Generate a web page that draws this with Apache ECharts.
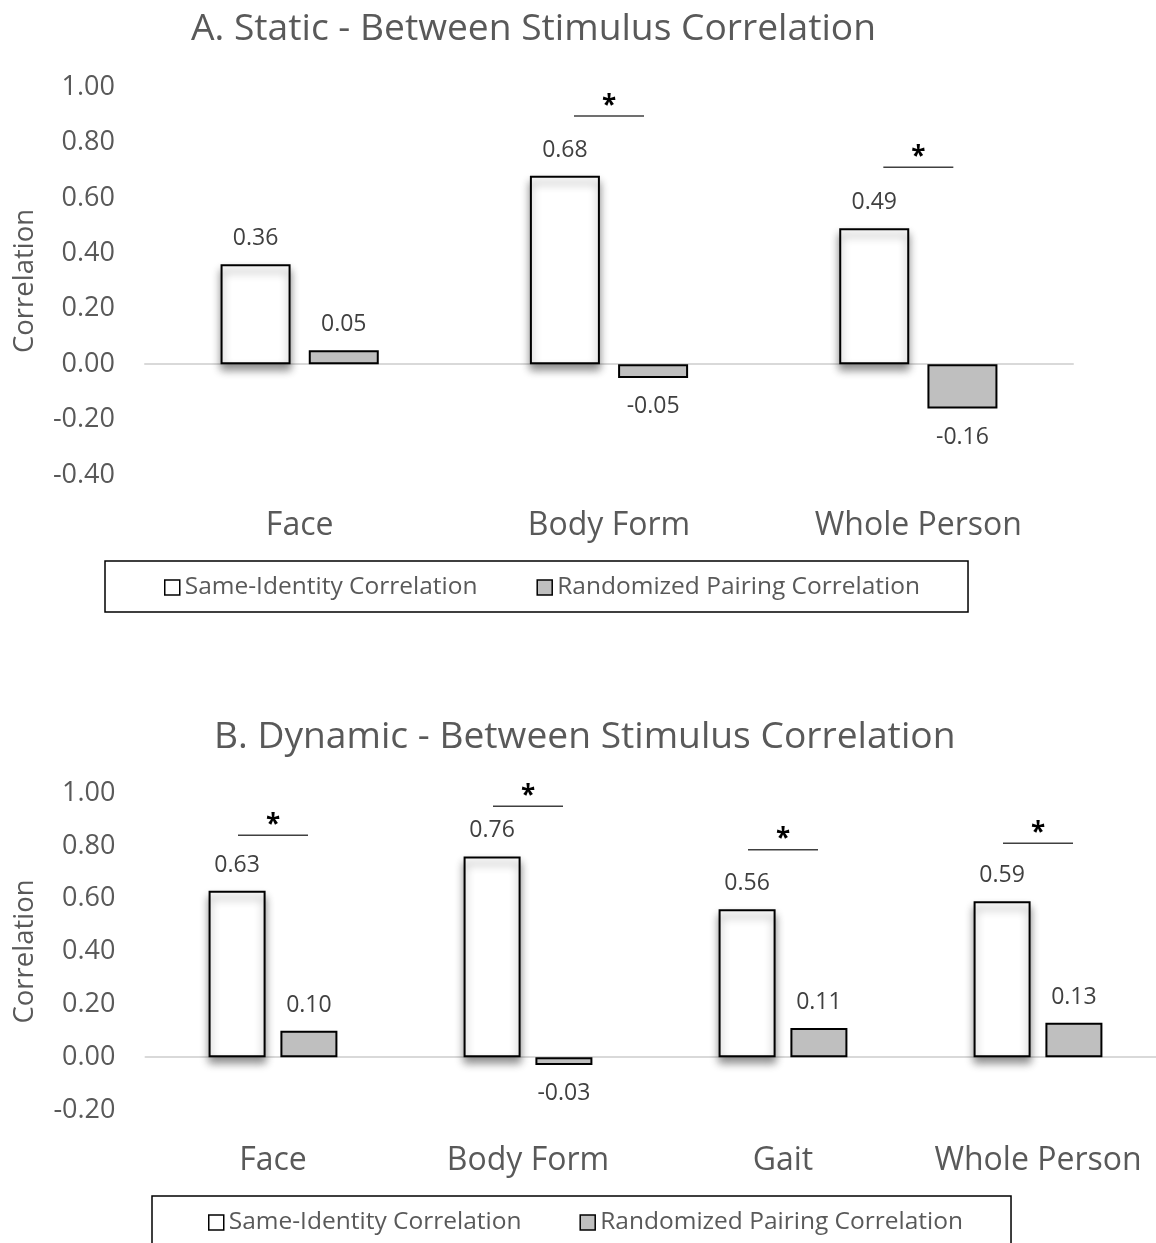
<!DOCTYPE html>
<html><head><meta charset="utf-8">
<script src="https://cdn.jsdelivr.net/npm/echarts@6/dist/echarts.min.js"></script>
<style>html,body{margin:0;padding:0;background:#fff}#chart{width:1156px;height:1243px}</style>
</head><body><div id="chart"></div>
<script>
// ---- Data ----
const seriesNames = ['Same-Identity Correlation', 'Randomized Pairing Correlation'];

const titleA = 'A. Static - Between Stimulus Correlation';
const categoriesA = ['Face', 'Body Form', 'Whole Person'];
const sameA = [0.36, 0.68, 0.49];
const randA = [0.05, -0.05, -0.16];
const sigLevelA = [null, 0.895, 0.71];   // height of significance bracket (correlation units)
const yRangeA = [-0.4, 1.0];

const titleB = 'B. Dynamic - Between Stimulus Correlation';
const categoriesB = ['Face', 'Body Form', 'Gait', 'Whole Person'];
const sameB = [0.63, 0.76, 0.56, 0.59];
const randB = [0.10, -0.03, 0.11, 0.13];
const sigLevelB = [0.84, 0.95, 0.785, 0.81];
const yRangeB = [-0.2, 1.0];
const yStep = 0.2;

// ---- Styles ----
const FONT = "'Open Sans', sans-serif";
const GREY_TXT = '#595959';

function barData(vals) {
  return vals.map(v => ({
    value: v,
    label: { position: v < 0 ? 'bottom' : 'top', distance: v < 0 ? 17 : 14 }
  }));
}
function sigData(levels) {
  const out = [];
  levels.forEach((lv, i) => { if (lv !== null) out.push([i, lv]); });
  return out;
}
function sigRender(params, api) {
  const p = api.coord([api.value(0), api.value(1)]);
  const half = 35;
  return {
    type: 'group',
    children: [
      { type: 'line', shape: { x1: p[0] - half, y1: p[1], x2: p[0] + half, y2: p[1] },
        style: { stroke: '#404040', lineWidth: 1.5 } },
      { type: 'text', style: { x: p[0], y: p[1] - 10, text: '*', fill: '#000',
        font: 'bold 26px ' + FONT, align: 'center', verticalAlign: 'middle' } }
    ]
  };
}

const valueLabel = {
  show: true,
  formatter: p => Number(p.value).toFixed(2),
  color: '#404040', fontSize: 23, fontFamily: FONT
};

function yAxis(gridIndex, range) {
  return {
    type: 'value', gridIndex: gridIndex, min: range[0], max: range[1], interval: yStep,
    name: 'Correlation', nameLocation: 'middle', nameRotate: 90, nameGap: 106,
    nameTextStyle: { color: GREY_TXT, fontSize: 27.5, fontFamily: FONT },
    axisLine: { show: false }, axisTick: { show: false }, splitLine: { show: false },
    axisLabel: { formatter: v => v.toFixed(2), color: GREY_TXT, fontSize: 27, fontFamily: FONT, margin: 30 }
  };
}
function xLabelAxis(gridIndex, cats) {
  return {
    type: 'category', gridIndex: gridIndex, data: cats, position: 'bottom',
    axisLine: { show: false, onZero: false }, axisTick: { show: false }, splitLine: { show: false },
    axisLabel: { color: GREY_TXT, fontSize: 32, fontFamily: FONT, margin: 35, interval: 0 }
  };
}
function xZeroAxis(gridIndex, cats) {
  return {
    type: 'category', gridIndex: gridIndex, data: cats, position: 'top',
    axisLine: { show: true, onZero: true, lineStyle: { color: '#d9d9d9', width: 2 } },
    axisTick: { show: false }, axisLabel: { show: false }, splitLine: { show: false }
  };
}
function sameSeries(xi, yi, vals, bw) {
  return {
    type: 'bar', name: seriesNames[0], xAxisIndex: xi, yAxisIndex: yi,
    data: barData(vals), barWidth: bw, barGap: '26%',
    itemStyle: { color: '#ffffff', borderColor: '#000', borderWidth: 2,
      shadowColor: 'rgba(0,0,0,0.45)', shadowBlur: 8, shadowOffsetY: 6 },
    label: valueLabel, z: 3
  };
}
function randSeries(xi, yi, vals, bw) {
  return {
    type: 'bar', name: seriesNames[1], xAxisIndex: xi, yAxisIndex: yi,
    data: barData(vals), barWidth: bw, barGap: '26%',
    itemStyle: { color: '#bfbfbf', borderColor: '#000', borderWidth: 2 },
    label: valueLabel, z: 3
  };
}
function legend(left, top, padLeft, gap, icon) {
  return {
    data: seriesNames, left: left, top: top, orient: 'horizontal',
    padding: [14, 48, 12, padLeft], itemGap: gap, itemWidth: icon, itemHeight: icon,
    borderColor: '#000', borderWidth: 1.5, backgroundColor: '#fff',
    icon: 'rect', selectedMode: false,
    itemStyle: { borderColor: '#000', borderWidth: 1.5, shadowBlur: 0, shadowOffsetX: 0, shadowOffsetY: 0, shadowColor: 'rgba(0,0,0,0)' },
    textStyle: { color: GREY_TXT, fontSize: 24.5, fontFamily: FONT }
  };
}

const chart = echarts.init(document.getElementById('chart'), null, { renderer: 'canvas' });
chart.setOption({
  animation: false,
  backgroundColor: '#fff',
  title: [
    { text: titleA, left: 186, top: 6, textStyle: { color: GREY_TXT, fontSize: 37.2, fontWeight: 'normal', fontFamily: FONT } },
    { text: titleB, left: 209, top: 714, textStyle: { color: GREY_TXT, fontSize: 37.2, fontWeight: 'normal', fontFamily: FONT } }
  ],
  legend: [ legend(105, 561, 59, 59, 15), legend(152, 1196, 56, 58, 15) ],
  grid: [
    { left: 145, top: 87, width: 928, height: 388, containLabel: false, outerBoundsMode: 'none' },
    { left: 145.5, top: 793, width: 1020, height: 317, containLabel: false, outerBoundsMode: 'none' }
  ],
  xAxis: [ xLabelAxis(0, categoriesA), xZeroAxis(0, categoriesA), xLabelAxis(1, categoriesB), xZeroAxis(1, categoriesB) ],
  yAxis: [ yAxis(0, yRangeA), yAxis(1, yRangeB) ],
  series: [
    sameSeries(0, 0, sameA, 70),
    randSeries(0, 0, randA, 70),
    { type: 'custom', xAxisIndex: 0, yAxisIndex: 0, data: sigData(sigLevelA), renderItem: sigRender,
      encode: { x: 0, y: 1 }, z: 4, silent: true },
    sameSeries(2, 1, sameB, 57),
    randSeries(2, 1, randB, 57),
    { type: 'custom', xAxisIndex: 2, yAxisIndex: 1, data: sigData(sigLevelB), renderItem: sigRender,
      encode: { x: 0, y: 1 }, z: 4, silent: true }
  ]
});
</script>
</body></html>
